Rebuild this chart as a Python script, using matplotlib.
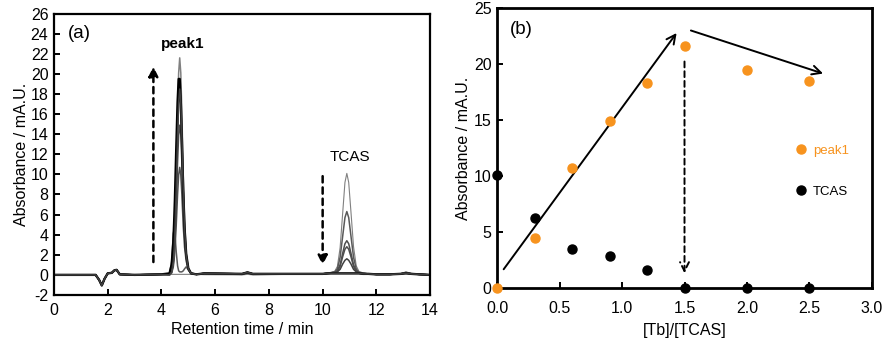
import matplotlib
matplotlib.use("Agg")
import matplotlib.pyplot as plt
from matplotlib.ticker import MultipleLocator, FormatStrFormatter

plt.rcParams['font.family'] = ['Liberation Sans', 'DejaVu Sans']
plt.rcParams['axes.unicode_minus'] = False

# ---- (a) chromatograms ----
# part before peak1, same for every run
t_start = [0, 1.55, 1.68, 1.78, 1.88, 2.0, 2.15, 2.25, 2.33, 2.45, 3.0, 4.0]
a_start = [0, 0, -0.5, -1.05, -0.4, 0.15, 0.2, 0.45, 0.5, 0.05, 0, 0.05]

t_main = [4.30, 4.38, 4.44, 4.47, 4.50, 4.55, 4.60, 4.64, 4.68, 4.72, 4.76, 4.81, 4.86, 4.92, 5.00, 5.10, 5.30,
          5.6, 7.0, 7.2, 7.4,
          10.0, 10.3, 10.45, 10.55, 10.65, 10.75, 10.83, 10.90, 10.97, 11.05, 11.15, 11.25, 11.35, 11.5, 11.7, 12.0,
          12.5, 12.9, 13.1, 13.3, 13.6, 14.0]

run_ratio = [0, 0.3, 0.6, 0.9, 1.2, 1.5, 2.0, 2.5]
run_color = ['0.5', '0.35', '0.3', '0.3', '0.25', '0.5', '0.0', '0.25']
run_width = [0.8, 1.1, 1.1, 1.1, 1.1, 1.1, 1.7, 1.1]
runs = [
    [0.05, 0.05, 0.05, 0.05, 0.05, 0.05, 0.05, 0.05, 0.05, 0.05, 0.05, 0.05, 0.05, 0.05, 0.05, 0.05, 0.05,
     0.02, 0.0, 0.05, 0.0,
     0.1, 0.25, 0.35, 0.85, 2.7, 6.3, 9.2, 10.1, 9.2, 6.4, 2.8, 0.9, 0.35, 0.2, 0.1, 0.05,
     0.05, 0.1, 0.3, 0.15, 0.05, 0.0],
    [0.1, 1.3, 4.1, 4.5, 4.1, 2.3, 0.9, 0.4, 0.3, 0.3, 0.3, 0.4, 0.6, 0.8, 0.5, 0.2, 0.05,
     0.1, 0.05, 0.15, 0.05,
     0.1, 0.2, 0.3, 0.6, 1.75, 3.95, 5.7, 6.3, 5.7, 3.95, 1.75, 0.6, 0.25, 0.15, 0.1, 0.05,
     0.05, 0.1, 0.25, 0.1, 0.05, 0.0],
    [0.0, 0.18, 0.78, 1.44, 2.46, 4.92, 8.0, 9.95, 10.7, 9.95, 8.0, 4.92, 2.76, 1.38, 0.5, 0.15, 0.05,
     0.15, 0.1, 0.2, 0.1,
     0.1, 0.2, 0.25, 0.4, 1.0, 2.2, 3.1, 3.4, 3.1, 2.2, 1.0, 0.4, 0.2, 0.15, 0.1, 0.05,
     0.05, 0.1, 0.2, 0.1, 0.05, 0.0],
    [0.0, 0.25, 1.09, 2.0, 3.43, 6.85, 11.2, 13.9, 14.9, 13.9, 11.2, 6.85, 3.7, 1.7, 0.55, 0.15, 0.05,
     0.15, 0.1, 0.2, 0.1,
     0.1, 0.2, 0.25, 0.35, 0.85, 1.85, 2.55, 2.8, 2.55, 1.85, 0.85, 0.35, 0.2, 0.15, 0.1, 0.05,
     0.05, 0.1, 0.2, 0.1, 0.05, 0.0],
    [0.0, 0.31, 1.34, 2.47, 4.2, 8.4, 13.7, 17.0, 18.3, 17.0, 13.7, 8.4, 4.5, 1.9, 0.6, 0.15, 0.05,
     0.15, 0.1, 0.25, 0.1,
     0.1, 0.2, 0.2, 0.3, 0.55, 1.1, 1.45, 1.6, 1.45, 1.1, 0.55, 0.3, 0.2, 0.12, 0.08, 0.05,
     0.05, 0.1, 0.2, 0.1, 0.05, 0.0],
    [0.0, 0.37, 1.58, 2.9, 5.0, 9.9, 16.2, 20.1, 21.6, 20.1, 16.2, 9.9, 5.3, 2.2, 0.6, 0.15, 0.05,
     0.15, 0.1, 0.25, 0.1,
     0.1, 0.15, 0.15, 0.15, 0.15, 0.15, 0.15, 0.15, 0.15, 0.15, 0.15, 0.15, 0.15, 0.1, 0.1, 0.05,
     0.05, 0.1, 0.2, 0.1, 0.05, 0.0],
    [0.15, 1.03, 3.17, 5.15, 7.5, 12.5, 17.2, 19.5, 19.5, 17.2, 13.6, 8.5, 4.7, 2.1, 0.66, 0.15, 0.05,
     0.15, 0.1, 0.25, 0.1,
     0.1, 0.15, 0.15, 0.15, 0.15, 0.15, 0.15, 0.15, 0.15, 0.15, 0.15, 0.15, 0.15, 0.1, 0.1, 0.05,
     0.05, 0.1, 0.15, 0.1, 0.05, 0.0],
    [0.0, 0.31, 1.35, 2.5, 4.26, 8.5, 13.9, 17.2, 18.5, 17.2, 13.9, 8.5, 4.56, 1.95, 0.6, 0.15, 0.05,
     0.15, 0.1, 0.25, 0.1,
     0.1, 0.15, 0.15, 0.15, 0.15, 0.15, 0.15, 0.15, 0.15, 0.15, 0.15, 0.15, 0.15, 0.1, 0.1, 0.05,
     0.05, 0.1, 0.15, 0.1, 0.05, 0.0],
]

# ---- (b) peak heights vs ratio ----
tb_ratio = [0.0, 0.3, 0.6, 0.9, 1.2, 1.5, 2.0, 2.5]
peak1_abs = [0.0, 4.5, 10.7, 14.9, 18.3, 21.6, 19.5, 18.5]
tcas_abs = [10.1, 6.3, 3.5, 2.9, 1.6, 0.0, 0.0, 0.0]

orange = '#f7931e'


def style_axes(ax, lw):
    for s in ax.spines.values():
        s.set_linewidth(lw)
    ax.tick_params(direction='in', length=4, width=1.4, labelsize=11.5, pad=4)
    ax.tick_params(axis='x', pad=6)


fig = plt.figure(figsize=(8.85, 3.41), dpi=100)

# panel a
ax1 = fig.add_axes([0.061, 0.135, 0.425, 0.825])
for i in range(len(runs)):
    ax1.plot(t_start + t_main, a_start + runs[i], color=run_color[i], lw=run_width[i])
ax1.set_xlim(0, 14)
ax1.set_ylim(-2, 26)
ax1.xaxis.set_major_locator(MultipleLocator(2))
ax1.yaxis.set_major_locator(MultipleLocator(2))
style_axes(ax1, 1.6)
ax1.set_xlabel("Retention time / min", fontsize=11.5, labelpad=3)
ax1.set_ylabel("Absorbance / mA.U.", fontsize=11.5, labelpad=1)

ax1.annotate("", xy=(3.7, 21.0), xytext=(3.7, 1.0),
             arrowprops=dict(arrowstyle='-|>', lw=1.8, ls=(0, (2.5, 2)), color='k',
                             mutation_scale=14))
ax1.annotate("", xy=(10.0, 0.7), xytext=(10.0, 10.1),
             arrowprops=dict(arrowstyle='-|>', lw=1.8, ls=(0, (2.5, 2)), color='k',
                             mutation_scale=14))
ax1.text(4.8, 23.0, "peak1", fontsize=11, fontweight='bold', ha='center', va='center')
ax1.text(11.0, 11.7, "TCAS", fontsize=11, ha='center', va='center')
ax1.text(0.5, 24.0, "(a)", fontsize=13.5, ha='left', va='center')

# panel b
ax2 = fig.add_axes([0.5616, 0.1545, 0.4237, 0.821])
ax2.plot(tb_ratio, peak1_abs, 'o', color=orange, ms=6.5, clip_on=False, zorder=5, label='peak1')
ax2.plot(tb_ratio, tcas_abs, 'o', color='k', ms=6.5, clip_on=False, zorder=5, label='TCAS')
ax2.set_xlim(0, 3)
ax2.set_ylim(0, 25)
ax2.xaxis.set_major_locator(MultipleLocator(0.5))
ax2.xaxis.set_major_formatter(FormatStrFormatter('%.1f'))
ax2.yaxis.set_major_locator(MultipleLocator(5))
style_axes(ax2, 2.0)
ax2.tick_params(axis='x', pad=9)
ax2.set_xlabel("[Tb]/[TCAS]", fontsize=11.5, labelpad=5)
ax2.set_ylabel("Absorbance / mA.U.", fontsize=11.5, labelpad=2)

ax2.annotate("", xy=(1.45, 23.0), xytext=(0.04, 1.5),
             arrowprops=dict(arrowstyle='->', lw=1.4, color='k', mutation_scale=16))
ax2.annotate("", xy=(2.63, 19.1), xytext=(1.53, 23.1),
             arrowprops=dict(arrowstyle='->', lw=1.4, color='k', mutation_scale=16))
ax2.annotate("", xy=(1.5, 1.1), xytext=(1.5, 20.5),
             arrowprops=dict(arrowstyle='->', lw=1.4, ls=(0, (3, 2)), color='k',
                             mutation_scale=16))
ax2.text(0.1, 23.1, "(b)", fontsize=13.5, ha='left', va='center')

leg = ax2.legend(loc='center left', bbox_to_anchor=(0.775, 0.418), frameon=False,
                 fontsize=9.5, handlelength=1.0, handletextpad=0.4, labelspacing=2.2,
                 borderpad=0, numpoints=1, labelcolor='markerfacecolor')

fig.savefig("out.png", dpi=100)
